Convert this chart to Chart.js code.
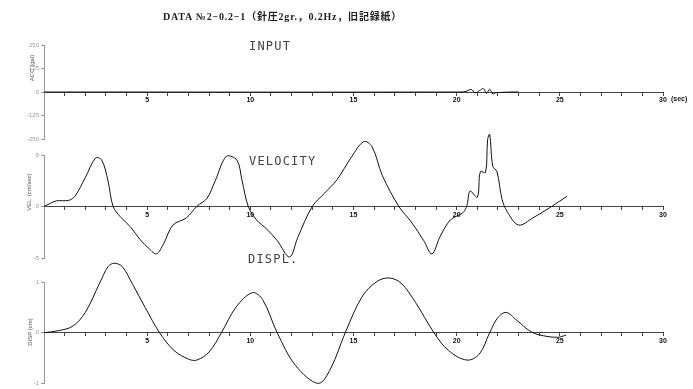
<!DOCTYPE html>
<html><head><meta charset="utf-8">
<script src="https://cdn.jsdelivr.net/npm/chart.js@4.4.0/dist/chart.umd.min.js"></script>
<style>
html,body{margin:0;padding:0;background:#fff;width:693px;height:389px;overflow:hidden;position:relative}
canvas{position:absolute;left:0;top:0}
.t{position:absolute;white-space:nowrap;color:#333;line-height:1}
.p{font-family:'DejaVu Sans Mono',monospace;font-size:12px;letter-spacing:1.2px;color:#444}
.r{transform:translate(-50%,-50%) rotate(-90deg);font-family:'Liberation Sans',sans-serif;color:#555}
</style></head><body>
<canvas id="c1" width="693" height="389"></canvas>
<canvas id="c2" width="693" height="389"></canvas>
<canvas id="c3" width="693" height="389"></canvas>
<div class="t" style="left:163px;top:8px;font:bold 10px 'Liberation Serif','Noto Sans CJK JP',serif;letter-spacing:0.8px;color:#222">DATA №2−0.2−1（針圧2gr.，0.2Hz，旧記録紙）</div>
<div class="t p" style="left:249px;top:40px">INPUT</div>
<div class="t p" style="left:249px;top:155px">VELOCITY</div>
<div class="t p" style="left:248px;top:253px">DISPL.</div>
<div class="t r" style="left:32px;top:68px;font-size:6px">ACC (gal)</div>
<div class="t r" style="left:29px;top:192px;font-size:6px">VEL. (cm/sec)</div>
<div class="t r" style="left:30px;top:332px;font-size:6px">DISP (cm)</div>
<script>
// ---- data ----
const accTime = [0, 20.3, 20.5, 20.7, 20.9, 21.1, 21.3, 21.45, 21.6, 21.75, 21.9, 22.2, 22.6, 23.0];
const accValue = [0, 0, 5, 14, -4, 7, 18, -7, 15, -10, -4, -2, 0, 0];

const velTime = [0, 0.3, 0.6, 1.2, 1.5, 2.0, 2.5, 2.8, 3.1, 3.35, 3.7, 4.2, 4.65, 5.1, 5.45, 5.8, 6.25, 6.9, 7.4, 7.9, 8.3, 8.85, 9.35, 9.6, 9.9, 10.3, 10.8, 11.3, 11.9, 12.3, 13.0, 13.6, 14.2, 14.9, 15.5, 15.9, 16.4, 17.2, 17.8, 18.4, 18.8, 19.2, 19.7, 20.3, 20.5, 20.65, 21.0, 21.15, 21.4, 21.5, 21.6, 21.75, 21.95, 22.2, 22.45, 23.0, 23.7, 24.6, 25.35];
const velValue = [0, 0.3, 0.55, 0.6, 1.0, 2.8, 4.7, 4.5, 2.5, 0, -1.0, -2.0, -3.2, -4.1, -4.6, -3.6, -1.8, -1.1, 0, 0.8, 2.5, 4.9, 4.5, 2.5, 0, -1.3, -2.2, -3.3, -4.9, -3.0, 0, 1.3, 2.6, 4.8, 6.3, 5.8, 3.0, 0, -1.5, -3.3, -4.6, -2.9, -1.3, -0.6, 0.1, 1.5, 0.9, 3.4, 3.3, 6.5, 7.0, 3.9, 3.4, 0.7, -0.5, -1.8, -1.1, 0, 1.0];

const dispTime = [0, 0.7, 1.4, 2.0, 2.7, 3.1, 3.4, 3.8, 4.3, 4.9, 5.6, 6.3, 7.0, 7.4, 8.0, 8.6, 9.3, 10.1, 10.6, 11.3, 12.2, 13.3, 13.9, 14.6, 15.4, 16.1, 16.7, 17.3, 18.0, 18.9, 19.6, 20.5, 21.1, 21.6, 22.0, 22.4, 22.9, 23.6, 24.2, 24.9, 25.3];
const dispValue = [0, 0.04, 0.13, 0.4, 0.98, 1.3, 1.37, 1.3, 0.95, 0.5, 0, -0.35, -0.52, -0.54, -0.38, 0, 0.5, 0.79, 0.65, 0, -0.65, -1.0, -0.7, 0, 0.7, 1.0, 1.08, 0.98, 0.6, 0, -0.35, -0.54, -0.42, 0, 0.3, 0.4, 0.25, 0.02, -0.06, -0.09, -0.05];

const timeLabels = [5, 10, 15, 20, 25, 30];
const accTicks = [-250, -125, 0, 125, 250];
const velTicks = [-5, 0, 5];
const dispTicks = [-1, 0, 1];

function makePanel(id, tArr, vArr, yTicks, padTop, padBottom, extra) {
  const plugins = [];
  if (extra) plugins.push(extra);
  return new Chart(document.getElementById(id), {
    type: 'line',
    data: { datasets: [{
      data: tArr.map((t, i) => ({ x: t, y: vArr[i] })),
      borderColor: '#111', borderWidth: 1, pointRadius: 0,
      tension: 0.35, clip: false, fill: false
    }]},
    options: {
      responsive: false, animation: false, devicePixelRatio: 1,
      layout: { padding: { left: 0, right: 30, top: padTop, bottom: padBottom } },
      plugins: { legend: { display: false }, tooltip: { enabled: false } },
      scales: {
        x: {
          type: 'linear', min: 0, max: 30, position: { y: 0 },
          afterFit: s => { s.height = 0; },
          ticks: { stepSize: 1, autoSkip: false, maxRotation: 0, minRotation: 0, padding: 1,
            color: '#111', font: { size: 7, weight: 'bold', family: 'Liberation Sans' },
            callback: v => timeLabels.includes(v) ? String(v) : '' },
          grid: { drawOnChartArea: false, drawTicks: true, tickLength: 3, color: '#444' },
          border: { display: true, color: '#444', width: 1 }
        },
        y: {
          type: 'linear', position: 'left',
          min: yTicks[0], max: yTicks[yTicks.length - 1],
          afterFit: s => { s.width = 44; },
          afterBuildTicks: s => { s.ticks = yTicks.map(v => ({ value: v })); },
          ticks: { color: '#999', font: { size: 6, family: 'Liberation Sans' }, padding: 2 },
          grid: { drawOnChartArea: false, tickLength: 3, color: '#999' },
          border: { display: true, color: '#999', width: 1 }
        }
      }
    },
    plugins
  });
}

const secPlugin = {
  id: 'sec',
  afterDraw(chart) {
    const ctx = chart.ctx;
    const y0 = chart.scales.y.getPixelForValue(0);
    const x30 = chart.scales.x.getPixelForValue(30);
    ctx.save();
    ctx.font = 'bold 7px "Liberation Sans"';
    ctx.fillStyle = '#111';
    ctx.textBaseline = 'top';
    ctx.textAlign = 'left';
    ctx.fillText('(sec)', x30 + 8, y0 + 4);
    ctx.restore();
  }
};

makePanel('c1', accTime, accValue, accTicks, 45, 389 - 139, secPlugin);
makePanel('c2', velTime, velValue, velTicks, 155, 389 - 258);
makePanel('c3', dispTime, dispValue, dispTicks, 282, 389 - 385);
</script>
</body></html>
